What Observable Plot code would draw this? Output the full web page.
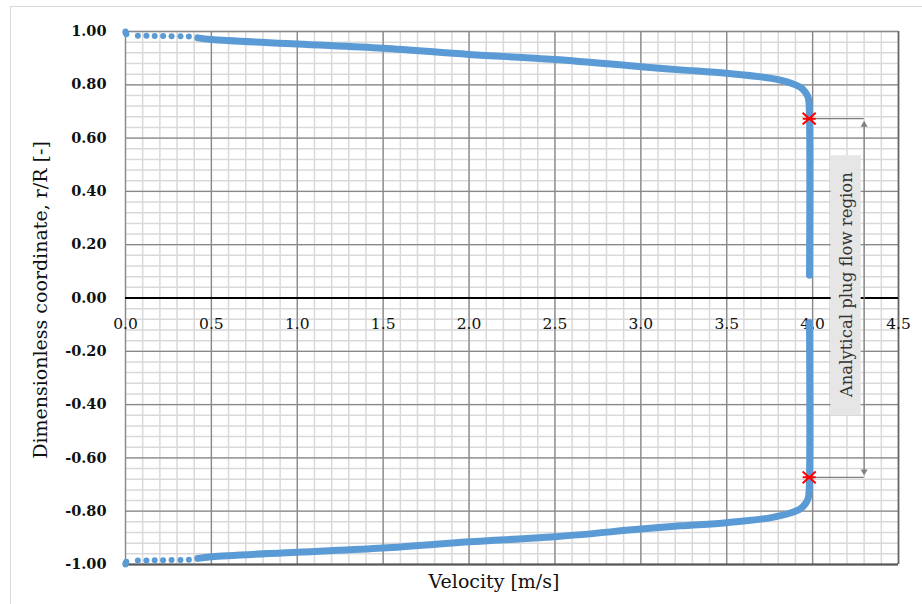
<!DOCTYPE html>
<html>
<head>
<meta charset="utf-8">
<script src="https://cdn.jsdelivr.net/npm/d3@7"></script>
<script src="https://cdn.jsdelivr.net/npm/@observablehq/plot@0.6"></script>
<style>
  html, body { margin: 0; padding: 0; background: #fff; }
  #chart { position: relative; width: 922px; height: 604px; overflow: hidden; }
  #chart svg { position: absolute; left: 0; top: 0; }
  #frame { position: absolute; left: 10px; top: 6px; right: -2px; bottom: -2px;
           border-left: 1.5px solid #d9d9d9; border-top: 1.5px solid #d9d9d9; pointer-events: none; }
</style>
</head>
<body>
<div id="chart"><div id="frame"></div></div>
<script>
// ---- Data ----
// sparse dots near the wall (upper half)
const dotVelocityTop = [0, 0, 0.005, 0.072, 0.122, 0.170, 0.219, 0.268, 0.320, 0.369];
const dotRTop        = [1.0, 0.995, 0.99, 0.984, 0.984, 0.983, 0.983, 0.982, 0.982, 0.981];
// dense profile (upper half)
const lineVelocityTop = [0.421, 0.5, 1.0, 1.5, 2.0, 2.5, 3.0, 3.23, 3.5, 3.76, 3.875, 3.93, 3.96, 3.975, 3.98, 3.982];
const lineRTop        = [0.976, 0.970, 0.953, 0.937, 0.914, 0.895, 0.868, 0.856, 0.843, 0.824, 0.806, 0.790, 0.770, 0.750, 0.720, 0.085];
// sparse dots near the wall (lower half)
const dotVelocityBottom = [0, 0, 0.005, 0.072, 0.122, 0.170, 0.219, 0.268, 0.320, 0.369];
const dotRBottom        = [-1.0, -0.995, -0.99, -0.985, -0.985, -0.984, -0.984, -0.983, -0.983, -0.982];
// dense profile (lower half)
const lineVelocityBottom = [0.421, 0.5, 1.0, 1.5, 2.0, 2.5, 3.0, 3.23, 3.5, 3.76, 3.875, 3.93, 3.96, 3.975, 3.98, 3.982];
const lineRBottom        = [-0.977, -0.971, -0.954, -0.938, -0.915, -0.896, -0.867, -0.855, -0.843, -0.824, -0.806, -0.790, -0.770, -0.750, -0.720, -0.092];
// analytical plug-flow limits (red markers)
const plugVelocity = [3.98, 3.98];
const plugR = [0.673, -0.673];
// annotation
const annotationText = "Analytical plug flow region";
const annotationArrowX = 4.3;
const annotationBox = {x1: 4.108, x2: 4.283, y1: -0.441, y2: 0.534};
const annotationTextPos = {x: 4.197, y: 0.05};
const arrowTop = 0.650, arrowBottom = -0.651;

// ticks
const xTicks = [0, 0.5, 1.0, 1.5, 2.0, 2.5, 3.0, 3.5, 4.0, 4.5];
const xTickLabels = ["0.0", "0.5", "1.0", "1.5", "2.0", "2.5", "3.0", "3.5", "4.0", "4.5"];
const yTicks = [1, 0.8, 0.6, 0.4, 0.2, 0, -0.2, -0.4, -0.6, -0.8, -1];
const yTickLabels = ["1.00", "0.80", "0.60", "0.40", "0.20", "0.00", "-0.20", "-0.40", "-0.60", "-0.80", "-1.00"];
const xMinorTicks = d3.range(0, 46).map(i => i / 10);
const yMinorTicks = d3.range(0, 51).map(i => Math.round((-1 + i * 0.04) * 100) / 100);

const xTitle = "Velocity [m/s]";
const yTitle = "Dimensionless coordinate, r/R [-]";

// ---- Build tables ----
const dotsTop = dotVelocityTop.map((v, i) => ({v, r: dotRTop[i]}));
const dotsBottom = dotVelocityBottom.map((v, i) => ({v, r: dotRBottom[i]}));
const lineTop = lineVelocityTop.map((v, i) => ({v, r: lineRTop[i]}));
const lineBottom = lineVelocityBottom.map((v, i) => ({v, r: lineRBottom[i]}));
const plug = plugVelocity.map((v, i) => ({v, r: plugR[i]}));

const blue = "#5B9BD5";
const serif = "DejaVu Serif, serif";

const starSymbol = {
  draw(ctx, size) {
    const w = Math.sqrt(size) * 0.67, h = w * 0.9;
    ctx.moveTo(-w, -h); ctx.lineTo(w, h);
    ctx.moveTo(-w, h); ctx.lineTo(w, -h);
    ctx.moveTo(-w, 0); ctx.lineTo(w, 0);
  }
};

const chart = Plot.plot({
  width: 922,
  height: 604,
  marginLeft: 125,
  marginRight: 24,
  marginTop: 31,
  marginBottom: 40,
  style: {fontFamily: serif, background: "white"},
  x: {domain: [0, 4.5], axis: null},
  y: {domain: [-1, 1], axis: null},
  marks: [
    // minor grid
    Plot.ruleX(xMinorTicks, {stroke: "#d9d9d9", strokeWidth: 1.5}),
    Plot.ruleY(yMinorTicks, {stroke: "#d9d9d9", strokeWidth: 1.5}),
    // major grid
    Plot.ruleX(xTicks, {stroke: "#888888", strokeWidth: 1.3}),
    Plot.ruleY(yTicks, {stroke: "#888888", strokeWidth: 1.3}),
    Plot.ruleY([-1], {stroke: "#555555", strokeWidth: 1.8}),
    Plot.ruleX([4.5], {stroke: "#666666", strokeWidth: 1.6}),
    // zero axis
    Plot.ruleY([0], {stroke: "#000000", strokeWidth: 2}),
    // annotation box and text
    Plot.rect([annotationBox], {x1: "x1", x2: "x2", y1: "y1", y2: "y2", fill: "#e7e6e6"}),
    Plot.text([annotationText], {x: () => annotationTextPos.x, y: () => annotationTextPos.y, rotate: -90,
      textAnchor: "middle", lineAnchor: "middle", fontSize: 16.5, fill: "#333333", fontFamily: serif}),
    // annotation leader lines + double arrow
    Plot.ruleY(plug, {y: "r", x1: "v", x2: () => annotationArrowX, stroke: "#7f7f7f", strokeWidth: 1.3}),
    Plot.ruleX([annotationArrowX], {y1: arrowTop, y2: arrowBottom, stroke: "#7f7f7f", strokeWidth: 1.3}),
    Plot.dot([arrowTop], {x: () => annotationArrowX, y: d => d, symbol: "triangle2", r: 3.3, fill: "#7f7f7f", stroke: "none"}),
    Plot.dot([arrowBottom], {x: () => annotationArrowX, y: d => d, symbol: "triangle2", rotate: 180, r: 3.3, fill: "#7f7f7f", stroke: "none"}),
    // tick labels
    Plot.text(xTicks, {x: d => d, y: () => 0, text: (d, i) => xTickLabels[i], dy: 26,
      fontSize: 15.5, fill: "#111", fontFamily: serif}),
    Plot.text(yTicks, {y: d => d, frameAnchor: "left", text: (d, i) => yTickLabels[i], dx: -19,
      textAnchor: "end", lineAnchor: "middle", fontSize: 14.5, fontWeight: "bold", fill: "#111", fontFamily: serif}),
    // axis titles
    Plot.text([xTitle], {frameAnchor: "bottom", dy: 17, dx: -18, textAnchor: "middle", lineAnchor: "middle",
      fontSize: 19, fill: "#111", fontFamily: serif}),
    Plot.text([yTitle], {frameAnchor: "left", dx: -85, dy: 2, rotate: -90, textAnchor: "middle", lineAnchor: "middle",
      fontSize: 19, fill: "#111", fontFamily: serif}),
    // velocity profile
    Plot.line(lineTop, {x: "v", y: "r", stroke: blue, strokeWidth: 7, curve: "catmull-rom", strokeLinecap: "round", strokeLinejoin: "round"}),
    Plot.line(lineBottom, {x: "v", y: "r", stroke: blue, strokeWidth: 7, curve: "catmull-rom", strokeLinecap: "round", strokeLinejoin: "round"}),
    Plot.dot(dotsTop, {x: "v", y: "r", r: 3, fill: blue, stroke: "none"}),
    Plot.dot(dotsBottom, {x: "v", y: "r", r: 3, fill: blue, stroke: "none"}),
    // plug-flow markers
    Plot.dot(plug, {x: "v", y: "r", symbol: starSymbol, r: 5.5, stroke: "#ff0000", strokeWidth: 2, fill: "none"})
  ]
});

document.getElementById("chart").insertBefore(chart, document.getElementById("frame"));
</script>
</body>
</html>
